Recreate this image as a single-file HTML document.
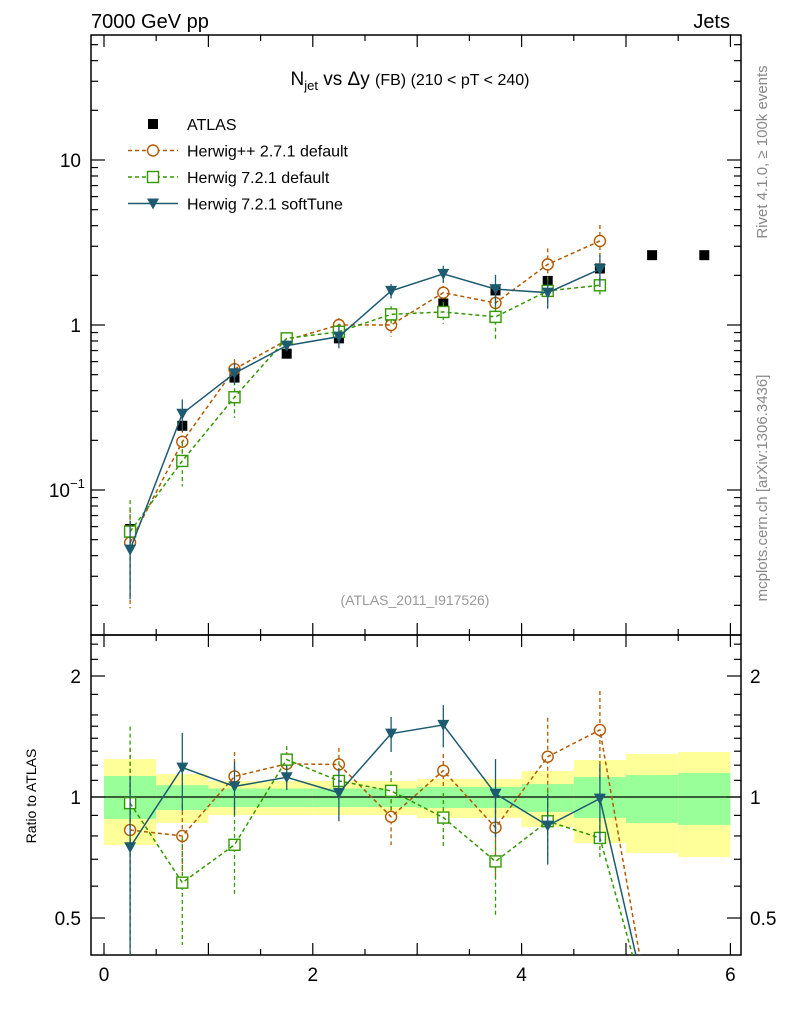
<!DOCTYPE html>
<html><head><meta charset="utf-8"><style>
html,body{margin:0;padding:0;background:#fff}
svg{display:block;font-family:"Liberation Sans",Arial,sans-serif}
</style></head><body>
<svg id="c" width="786" height="1024" viewBox="0 0 786 1024" xmlns="http://www.w3.org/2000/svg">
<defs>
<clipPath id="clipMain"><rect x="91" y="35" width="650" height="600"/></clipPath>
<clipPath id="clipRatio"><rect x="91" y="635" width="650" height="320"/></clipPath>
</defs>
<text x="91" y="28" font-size="20">7000 GeV pp</text>
<text x="730" y="28" font-size="20" text-anchor="end">Jets</text>
<text x="410" y="85" font-size="19" text-anchor="middle">N<tspan font-size="13" dy="5">jet</tspan><tspan dy="-5"> vs Δy </tspan><tspan font-size="16">(FB) (210 &lt; pT &lt; 240)</tspan></text>
<text x="415" y="605" font-size="14" fill="#999" text-anchor="middle">(ATLAS_2011_I917526)</text>
<text transform="translate(767,152) rotate(-90)" font-size="15" fill="#888" text-anchor="middle">Rivet 4.1.0, ≥ 100k events</text>
<text transform="translate(767,488) rotate(-90)" font-size="15" fill="#888" text-anchor="middle">mcplots.cern.ch [arXiv:1306.3436]</text>
<text transform="translate(36,796) rotate(-90)" font-size="14" text-anchor="middle">Ratio to ATLAS</text>
<g id="bands"></g><g id="axes"></g><g id="series"></g><g id="legend"></g>
</svg>
<script>
const xCenters=[0.25,0.75,1.25,1.75,2.25,2.75,3.25,3.75,4.25,4.75,5.25,5.75];
const atlasVals=[0.058,0.245,0.48,0.67,0.83,1.12,1.35,1.62,1.85,2.2,2.65,2.65];
const atlasErr=[0.005,0.012,0.02,0.025,0.03,0.04,0.05,0.06,0.07,0.08,0.1,0.1];
const hppVals=[0.048,0.196,0.54,0.81,1.0,1.0,1.57,1.36,2.33,3.23,0,0];
const hppRelErr=[0.6,0.2,0.15,0.07,0.1,0.15,0.1,0.25,0.25,0.25,0,0];
const h721Vals=[0.056,0.15,0.365,0.83,0.91,1.16,1.2,1.12,1.61,1.74,0,0];
const h721RelErr=[0.55,0.3,0.25,0.08,0.12,0.12,0.15,0.27,0.2,0.12,0,0];
const softVals=[0.0435,0.29,0.51,0.75,0.85,1.61,2.04,1.65,1.57,2.18,0,0];
const softRelErr=[0.5,0.22,0.15,0.07,0.15,0.1,0.12,0.22,0.2,0.22,0,0];
const bandTotUp=[1.243,1.14,1.096,1.096,1.096,1.096,1.108,1.108,1.16,1.236,1.279,1.294];
const bandTotDn=[0.76,0.862,0.902,0.902,0.902,0.902,0.887,0.887,0.842,0.768,0.725,0.709];
const bandStatUp=[1.128,1.07,1.05,1.05,1.05,1.05,1.059,1.059,1.077,1.121,1.134,1.147];
const bandStatDn=[0.882,0.928,0.944,0.944,0.944,0.944,0.939,0.939,0.918,0.887,0.862,0.852];
const xTicks=[0,2,4,6];
const mainTickLabels=["10","1","10"];
const ratioTickVals=[0.5,1,2];

const NS="http://www.w3.org/2000/svg";
const X=v=>104+v*104.4;
const Y=v=>160-(Math.log10(v)-1)*165;
const YR=v=>797-Math.log2(Math.max(v,0.27))*121;
function mk(tag,attrs,parent){const e=document.createElementNS(NS,tag);for(const k in attrs)e.setAttribute(k,attrs[k]);parent.appendChild(e);return e;}
const bands=document.getElementById('bands'),axes=document.getElementById('axes'),series=document.getElementById('series'),legend=document.getElementById('legend');

xCenters.forEach((c,i)=>{
  const y1=mk('rect',{x:X(c-0.25),y:YR(bandTotUp[i]),width:X(0.5)-X(0),height:YR(bandTotDn[i])-YR(bandTotUp[i]),fill:'#ffff99'},bands);
  
  
  const g1=mk('rect',{x:X(c-0.25),y:YR(bandStatUp[i]),width:X(0.5)-X(0),height:YR(bandStatDn[i])-YR(bandStatUp[i]),fill:'#99ff99'},bands);
  
  
});
const one=mk('line',{x1:91,x2:741,y1:YR(1),y2:YR(1),stroke:'#000','stroke-width':1.2},bands);



// frames
const f1=mk('rect',{x:91,y:35,width:650,height:600,fill:'none',stroke:'#000','stroke-width':1.5},axes);


const f2=mk('rect',{x:91,y:635,width:650,height:320,fill:'none',stroke:'#000','stroke-width':1.5},axes);


function tick(x1,y1,x2,y2){const t=mk('line',{x1,y1,x2,y2,stroke:'#000','stroke-width':1.2},axes);}
// x ticks
for(let v=0;v<=6.01;v+=0.5){const x=X(v),L=(Math.abs(v-Math.round(v))<0.01)?12:6;
  tick(x,35,x,35+L);tick(x,635,x,635-L);tick(x,635,x,635+L);tick(x,955,x,955-L);}
xTicks.forEach(v=>{const t=mk('text',{x:X(v),y:981,'font-size':19,'text-anchor':'middle'},axes);t.textContent=v;
  });
// main y ticks
for(let d=-2;d<=1;d++)for(let m=1;m<=9;m++){const v=m*Math.pow(10,d),y=Y(v);if(y<35||y>635)continue;const L=m===1?14:7;tick(91,y,91+L,y);tick(741,y,741-L,y);}
[[10,mainTickLabels[0]],[1,mainTickLabels[1]]].forEach(([v,s])=>{const t=mk('text',{x:81,y:Y(v)+7,'font-size':19,'text-anchor':'end'},axes);t.textContent=s;});
const tm=mk('text',{x:70,y:Y(0.1)+7,'font-size':19,'text-anchor':'end'},axes);tm.textContent=mainTickLabels[2];

const ts=mk('text',{x:70,y:Y(0.1)-2,'font-size':13},axes);ts.textContent='−1';

// ratio ticks
const rMinor=[0.5,0.6,0.7,0.8,0.9,1,1.1,1.2,1.3,1.4,1.5,1.6,1.8,2,2.2,2.4];
rMinor.forEach(v=>{const y=YR(v);const L=ratioTickVals.includes(v)?14:7;tick(91,y,91+L,y);tick(741,y,741-L,y);});
ratioTickVals.forEach(v=>{const y=YR(v)+7;
  const a=mk('text',{x:81,y,'font-size':19,'text-anchor':'end'},axes);a.textContent=v;
  const b=mk('text',{x:750,y,'font-size':19},axes);b.textContent=v;});

function drawMC(vals,rel,color,dash,marker,name){
  const gm=mk('g',{'clip-path':'url(#clipMain)'},series);
  const gr=mk('g',{'clip-path':'url(#clipRatio)'},series);
  const pm=[],pr=[];
  vals.forEach((v,i)=>{
    const x=X(xCenters[i]);const r=v/atlasVals[i];
    pr.push(x+','+YR(r));
    if(v>0){pm.push(x+','+Y(v));
      const e1=mk('line',{x1:x,x2:x,y1:Y(v*(1+rel[i])),y2:Y(Math.max(v*(1-rel[i]),1e-4)),stroke:color,'stroke-width':1.3,'stroke-dasharray':dash},gm);
      
      const e2=mk('line',{x1:x,x2:x,y1:YR(r*(1+rel[i])),y2:YR(r*(1-rel[i])),stroke:color,'stroke-width':1.3,'stroke-dasharray':dash},gr);
      
      [[gm,Y(v)],[gr,YR(r)]].forEach(([g,y])=>{const m=marker(g,x,y);});
    }
  });
  const l1=mk('polyline',{points:pm.join(' '),fill:'none',stroke:color,'stroke-width':1.5,'stroke-dasharray':dash},gm);
  
  const l2=mk('polyline',{points:pr.join(' '),fill:'none',stroke:color,'stroke-width':1.5,'stroke-dasharray':dash},gr);
  
}
const circ=c=>(g,x,y)=>mk('circle',{cx:x,cy:y,r:5.5,fill:'#fff',stroke:c,'stroke-width':1.4},g);
const sq=c=>(g,x,y)=>mk('rect',{x:x-5.5,y:y-5.5,width:11,height:11,fill:'#fff',stroke:c,'stroke-width':1.4},g);
const tri=c=>(g,x,y)=>mk('polygon',{points:`${x-6},${y-5} ${x+6},${y-5} ${x},${y+6}`,fill:c},g);

// ATLAS
const ga=mk('g',{'clip-path':'url(#clipMain)'},series);
atlasVals.forEach((v,i)=>{const x=X(xCenters[i]);
  const e=mk('line',{x1:x,x2:x,y1:Y(v+atlasErr[i]),y2:Y(v-atlasErr[i]),stroke:'#000','stroke-width':1.3},ga);
  
  const m=mk('rect',{x:x-5,y:Y(v)-5,width:10,height:10,fill:'#000'},ga);
  });

drawMC(hppVals,hppRelErr,'#b35900','4,3',circ('#b35900'),'herwigpp-271');
drawMC(h721Vals,h721RelErr,'#339900','4,3',sq('#339900'),'herwig-721-default');
drawMC(softVals,softRelErr,'#1d5b70','',tri('#1d5b70'),'herwig-721-softtune');

// legend
const rows=[['ATLAS','#000','',null],['Herwig++ 2.7.1 default','#b35900','4,3',circ('#b35900')],['Herwig 7.2.1 default','#339900','4,3',sq('#339900')],['Herwig 7.2.1 softTune','#1d5b70','',tri('#1d5b70')]];
rows.forEach((r,i)=>{const y=124+i*26.5;const g=mk('g',{},legend);
  
  if(i===0){mk('rect',{x:148,y:y-5,width:10,height:10,fill:'#000'},g);}
  else{mk('line',{x1:128,x2:178,y1:y,y2:y,stroke:r[1],'stroke-width':1.5,'stroke-dasharray':r[2]},g);r[3](g,153,y);}
  const t=mk('text',{x:187,y:y+6,'font-size':16},g);t.textContent=r[0];});
</script>
</body></html>
